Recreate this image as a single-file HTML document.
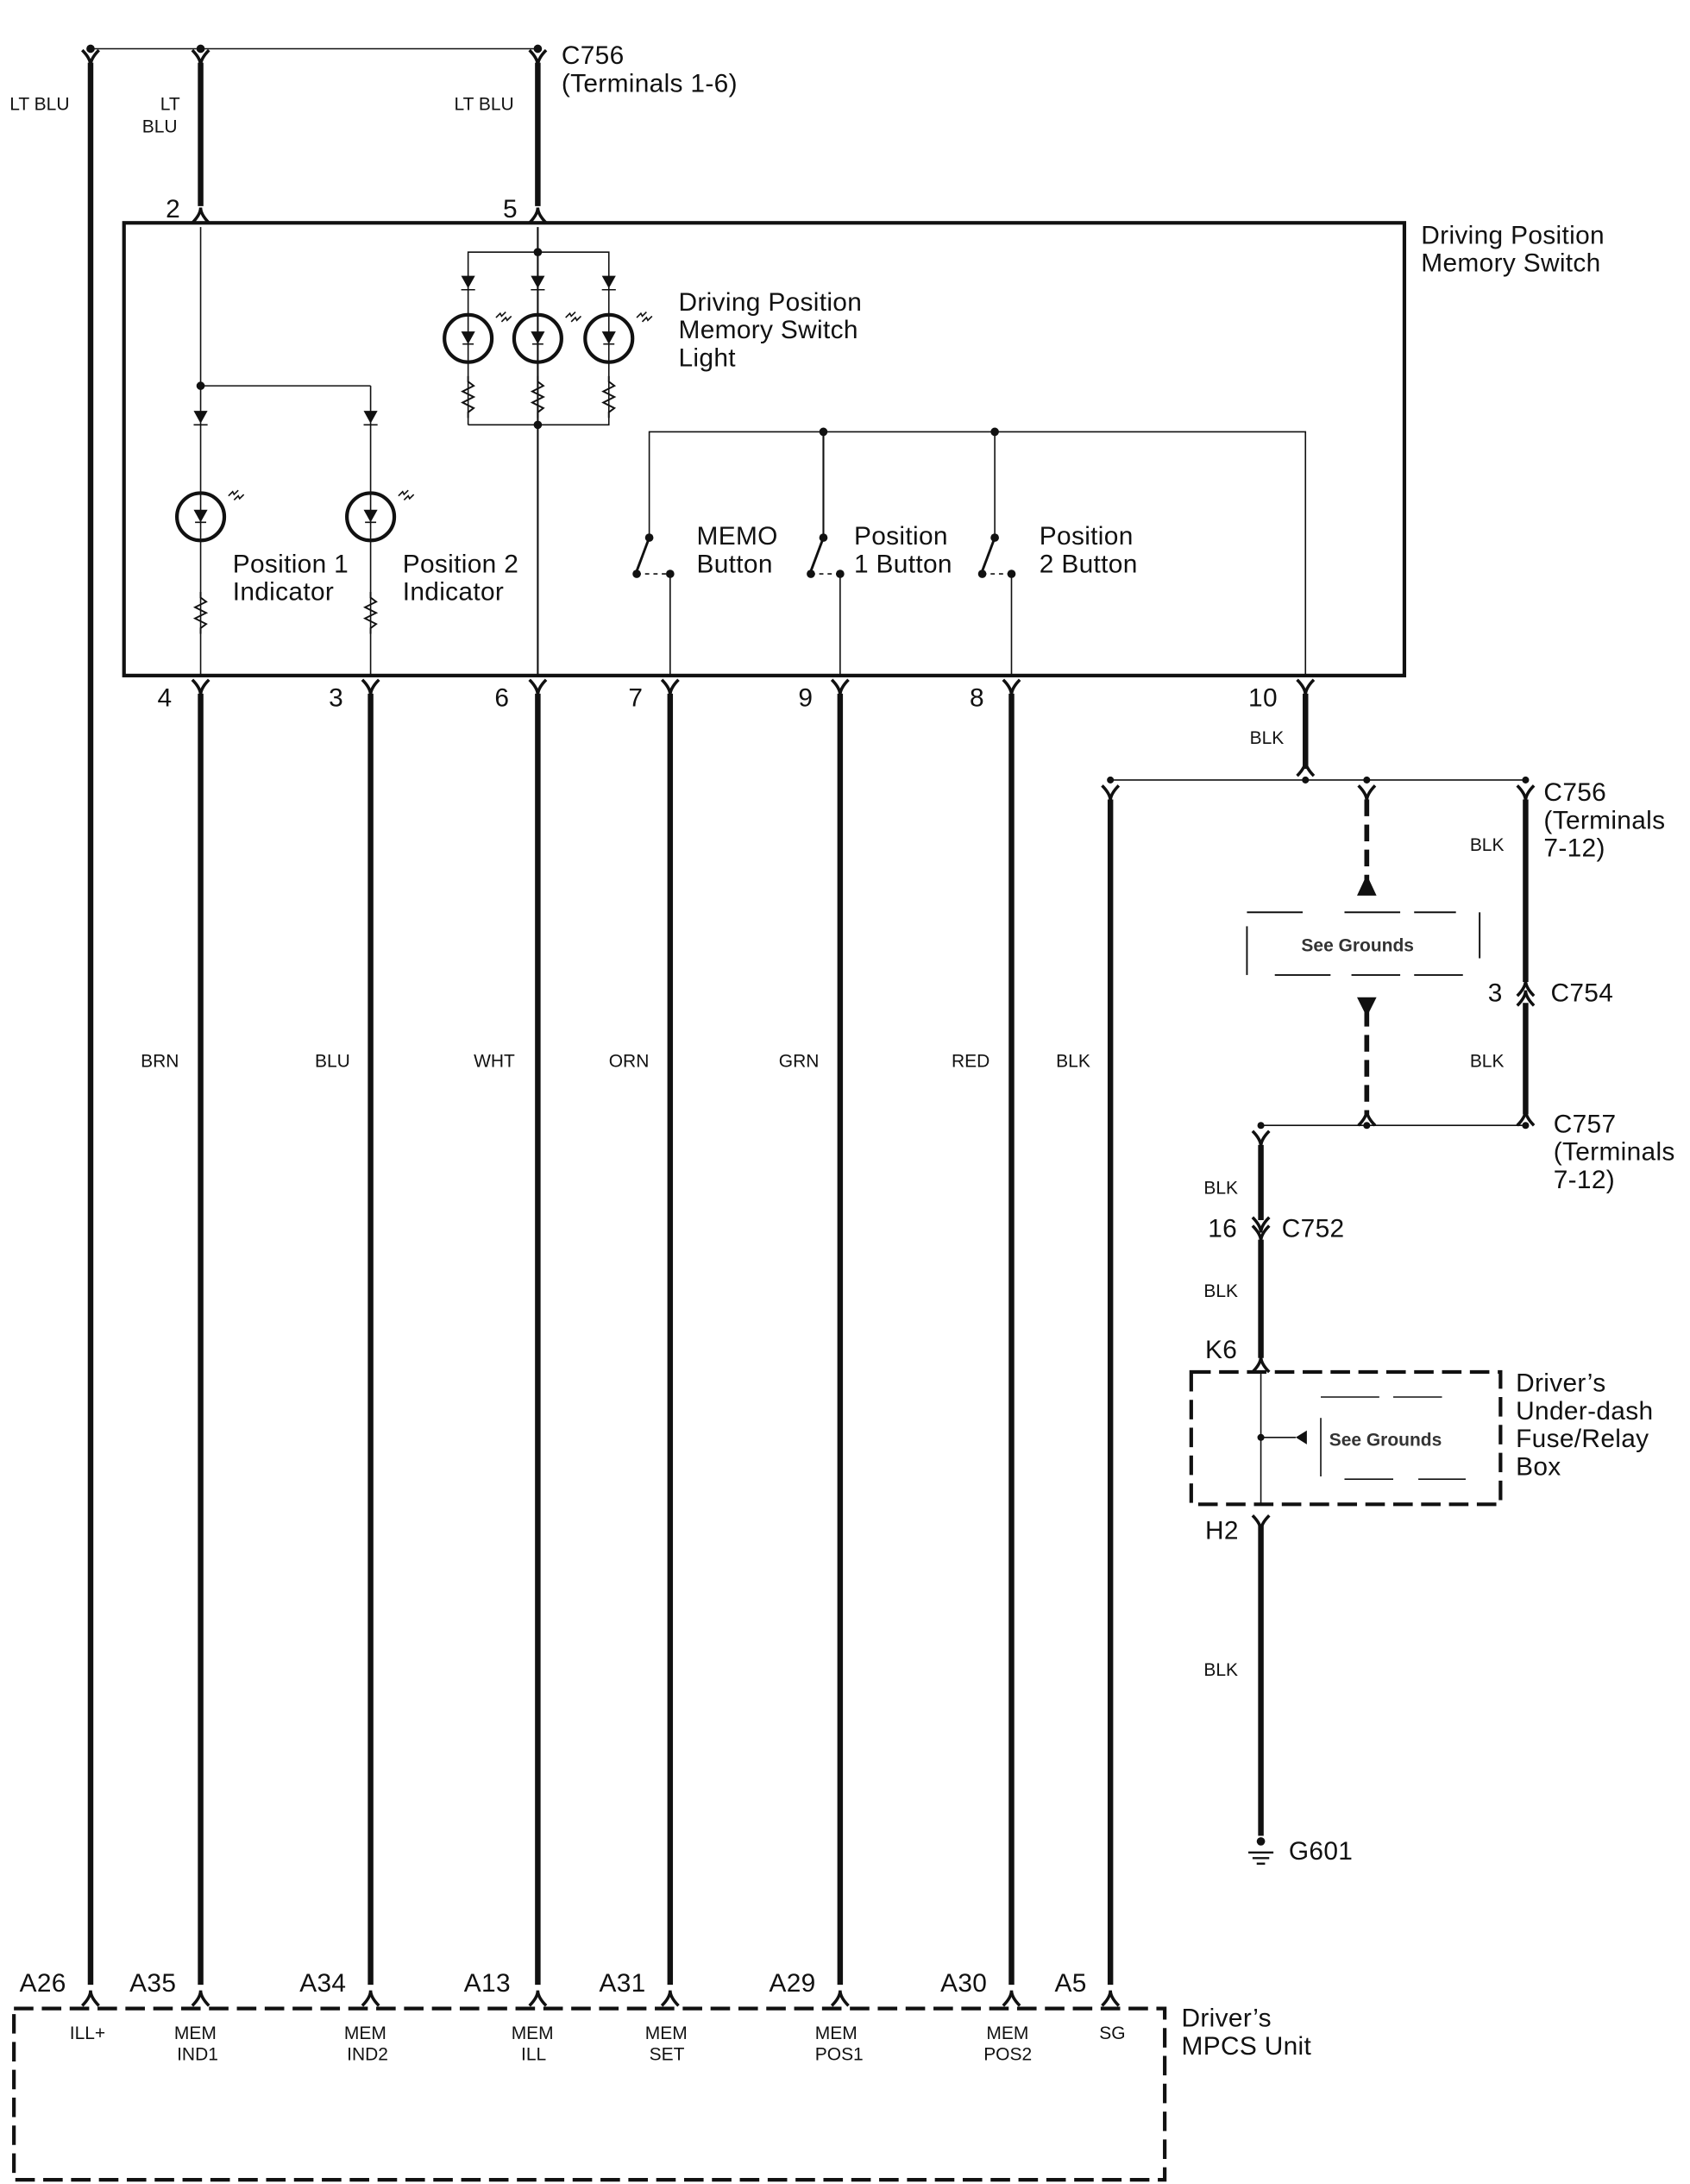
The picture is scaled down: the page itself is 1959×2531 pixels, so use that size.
<!DOCTYPE html>
<html><head><meta charset="utf-8"><style>
html,body{margin:0;padding:0;background:#fff;}
svg{display:block;}
text{font-family:"Liberation Sans",sans-serif;fill:#111;}
.l{font-size:18.5px;letter-spacing:0.2px;}
.s{font-size:13px;}
.b{font-size:13px;font-weight:bold;fill:#333;}
</style></head><body>
<svg width="1959" height="2531" viewBox="0 0 1213 1568" preserveAspectRatio="none" xmlns="http://www.w3.org/2000/svg">
<defs>
<path id="fc" d="M-6,-4 Q0,2 0,7 Q0,2 6,-4" fill="none" stroke="#111" stroke-width="2.2"/>
<path id="mc" d="M-6,5 Q0,-1 0,-6 Q0,-1 6,5" fill="none" stroke="#111" stroke-width="2.2"/>
<g id="led"><circle r="17" fill="none" stroke="#111" stroke-width="2.6"/><path d="M-5,-5 L5,-5 L0,4 Z" fill="#111"/><line x1="-4" y1="4" x2="4" y2="4" stroke="#111"/>
<path d="M20,-15 l3,-3 l1,2 l3,-3 M24,-12 l3,-3 l1,2 l3,-3" fill="none" stroke="#111" stroke-width="1"/></g>
<g id="dio"><path d="M-5,-5 L5,-5 L0,4 Z" fill="#111"/><line x1="-5" y1="5" x2="5" y2="5" stroke="#111"/></g>
<path id="res" d="M0,0 l0,4 l4,3 l-8,4 l8,4 l-8,4 l8,4 l-4,3 l0,4" fill="none" stroke="#111" stroke-width="1.2"/>
</defs>
<g stroke="#111" fill="none">
<line x1="65" y1="35" x2="386" y2="35" stroke-width="1"/>
<line x1="65" y1="45" x2="65" y2="1425" stroke-width="4"/>
<line x1="144" y1="45" x2="144" y2="148" stroke-width="4"/>
<line x1="386" y1="45" x2="386" y2="148" stroke-width="4"/>
<rect x="89" y="160" width="919" height="325" stroke-width="2.6"/>
<line x1="144" y1="163" x2="144" y2="485" stroke-width="1"/>
<line x1="144" y1="277" x2="266" y2="277" stroke-width="1"/>
<line x1="266" y1="277" x2="266" y2="485" stroke-width="1"/>
<line x1="386" y1="163" x2="386" y2="485" stroke-width="1.3"/>
<polyline points="336,305 336,181 437,181 437,305 336,305" stroke-width="1"/>
<polyline points="466,386 466,310 937,310 937,485" stroke-width="1"/>
<line x1="591" y1="310" x2="591" y2="386" stroke-width="1.3"/>
<line x1="714" y1="310" x2="714" y2="386" stroke-width="1"/>
<line x1="481" y1="412" x2="481" y2="485" stroke-width="1"/>
<line x1="603" y1="412" x2="603" y2="485" stroke-width="1"/>
<line x1="726" y1="412" x2="726" y2="485" stroke-width="1"/>
<g stroke-width="1.8"><line x1="466" y1="386" x2="457" y2="410"/><line x1="591" y1="386" x2="582" y2="410"/><line x1="714" y1="386" x2="705" y2="410"/></g>
<g stroke-width="1" stroke-dasharray="3,3"><line x1="457" y1="412" x2="481" y2="412"/><line x1="582" y1="412" x2="603" y2="412"/><line x1="705" y1="412" x2="726" y2="412"/></g>
<g stroke-width="4">
<line x1="144" y1="498" x2="144" y2="1425"/><line x1="266" y1="498" x2="266" y2="1425"/>
<line x1="386" y1="498" x2="386" y2="1425"/><line x1="481" y1="498" x2="481" y2="1425"/>
<line x1="603" y1="498" x2="603" y2="1425"/><line x1="726" y1="498" x2="726" y2="1425"/>
<line x1="937" y1="498" x2="937" y2="552"/><line x1="797" y1="574" x2="797" y2="1425"/>
<line x1="1095" y1="574" x2="1095" y2="705"/><line x1="1095" y1="720" x2="1095" y2="800"/>
<line x1="905" y1="822" x2="905" y2="876"/><line x1="905" y1="890" x2="905" y2="975"/>
<line x1="905" y1="1095" x2="905" y2="1318"/>
</g>
<g stroke-width="3.5" stroke-dasharray="12,6"><line x1="981" y1="574" x2="981" y2="636"/><line x1="981" y1="725" x2="981" y2="800"/></g>
<line x1="797" y1="560" x2="1095" y2="560" stroke-width="1"/>
<line x1="905" y1="808" x2="1095" y2="808" stroke-width="1"/>
<g stroke-width="1.2"><line x1="895" y1="655" x2="935" y2="655"/><line x1="965" y1="655" x2="1005" y2="655"/><line x1="1015" y1="655" x2="1045" y2="655"/>
<line x1="915" y1="700" x2="955" y2="700"/><line x1="970" y1="700" x2="1005" y2="700"/><line x1="1015" y1="700" x2="1050" y2="700"/>
<line x1="895" y1="665" x2="895" y2="700"/><line x1="1062" y1="655" x2="1062" y2="688"/></g>
<rect x="855" y="985" width="222" height="95" stroke-width="2.6" stroke-dasharray="14,6"/>
<line x1="905" y1="985" x2="905" y2="1080" stroke-width="1"/>
<line x1="905" y1="1032" x2="930" y2="1032" stroke-width="1"/>
<g stroke-width="1"><line x1="948" y1="1003" x2="990" y2="1003"/><line x1="1000" y1="1003" x2="1035" y2="1003"/><line x1="948" y1="1018" x2="948" y2="1060"/>
<line x1="965" y1="1062" x2="1000" y2="1062"/><line x1="1018" y1="1062" x2="1052" y2="1062"/></g>
<rect x="10" y="1442" width="826" height="123" stroke-width="2.6" stroke-dasharray="14,6"/>
<g stroke-width="1.5"><line x1="896" y1="1330" x2="914" y2="1330"/><line x1="899" y1="1334" x2="911" y2="1334"/><line x1="902" y1="1338" x2="908" y2="1338"/></g>
</g>
<g fill="#111">
<circle cx="65" cy="35" r="3"/><circle cx="144" cy="35" r="3"/><circle cx="386" cy="35" r="3"/>
<circle cx="386" cy="181" r="3"/><circle cx="386" cy="305" r="3"/><circle cx="144" cy="277" r="3"/>
<circle cx="591" cy="310" r="3"/><circle cx="714" cy="310" r="3"/>
<circle cx="466" cy="386" r="3"/><circle cx="591" cy="386" r="3"/><circle cx="714" cy="386" r="3"/>
<circle cx="457" cy="412" r="3"/><circle cx="582" cy="412" r="3"/><circle cx="705" cy="412" r="3"/>
<circle cx="481" cy="412" r="3"/><circle cx="603" cy="412" r="3"/><circle cx="726" cy="412" r="3"/>
<circle cx="797" cy="560" r="2.5"/><circle cx="937" cy="560" r="2.5"/><circle cx="981" cy="560" r="2.5"/><circle cx="1095" cy="560" r="2.5"/>
<circle cx="905" cy="808" r="2.5"/><circle cx="981" cy="808" r="2.5"/><circle cx="1095" cy="808" r="2.5"/>
<circle cx="905" cy="1032" r="2.5"/><circle cx="905" cy="1322" r="3"/>
<path d="M974,643 L988,643 L981,628 Z"/><path d="M974,716 L988,716 L981,730 Z"/>
<path d="M930,1032 L938,1027 L938,1037 Z"/>
</g>
<use href="#fc" x="65" y="40"/><use href="#fc" x="144" y="40"/><use href="#fc" x="386" y="40"/>
<use href="#mc" x="144" y="155"/><use href="#mc" x="386" y="155"/>
<use href="#fc" x="144" y="492"/><use href="#fc" x="266" y="492"/><use href="#fc" x="386" y="492"/><use href="#fc" x="481" y="492"/><use href="#fc" x="603" y="492"/><use href="#fc" x="726" y="492"/><use href="#fc" x="937" y="492"/>
<use href="#mc" x="937" y="552"/>
<use href="#fc" x="797" y="568"/><use href="#fc" x="981" y="568"/><use href="#fc" x="1095" y="568"/>
<use href="#mc" x="1095" y="710"/><use href="#mc" x="1095" y="717"/>
<use href="#mc" x="1095" y="803"/><use href="#mc" x="981" y="803"/>
<use href="#fc" x="905" y="816"/><use href="#fc" x="905" y="878"/><use href="#fc" x="905" y="884"/>
<use href="#mc" x="905" y="980"/><use href="#fc" x="905" y="1092"/>
<use href="#mc" x="65" y="1435"/><use href="#mc" x="144" y="1435"/><use href="#mc" x="266" y="1435"/><use href="#mc" x="386" y="1435"/><use href="#mc" x="481" y="1435"/><use href="#mc" x="603" y="1435"/><use href="#mc" x="726" y="1435"/><use href="#mc" x="797" y="1435"/>
<use href="#dio" x="336" y="203"/><use href="#dio" x="386" y="203"/><use href="#dio" x="437" y="203"/>
<use href="#led" x="336" y="243"/><use href="#led" x="386" y="243"/><use href="#led" x="437" y="243"/>
<use href="#res" x="336" y="270"/><use href="#res" x="386" y="270"/><use href="#res" x="437" y="270"/>
<use href="#dio" x="144" y="300"/><use href="#dio" x="266" y="300"/>
<use href="#led" x="144" y="371"/><use href="#led" x="266" y="371"/>
<use href="#res" x="144" y="425"/><use href="#res" x="266" y="425"/>
<text class="l" x="403" y="46">C756</text><text class="l" x="403" y="66">(Terminals 1-6)</text>
<text class="s" x="7" y="79">LT BLU</text><text class="s" x="115" y="79">LT</text><text class="s" x="102" y="95">BLU</text><text class="s" x="326" y="79">LT BLU</text>
<text class="l" x="119" y="156">2</text><text class="l" x="361" y="156">5</text>
<text class="l" x="1020" y="175">Driving Position</text><text class="l" x="1020" y="195">Memory Switch</text>
<text class="l" x="487" y="223">Driving Position</text><text class="l" x="487" y="243">Memory Switch</text><text class="l" x="487" y="263">Light</text>
<text class="l" x="167" y="411">Position 1</text><text class="l" x="167" y="431">Indicator</text>
<text class="l" x="289" y="411">Position 2</text><text class="l" x="289" y="431">Indicator</text>
<text class="l" x="500" y="391">MEMO</text><text class="l" x="500" y="411">Button</text>
<text class="l" x="613" y="391">Position</text><text class="l" x="613" y="411">1 Button</text>
<text class="l" x="746" y="391">Position</text><text class="l" x="746" y="411">2 Button</text>
<text class="l" x="113" y="507">4</text><text class="l" x="236" y="507">3</text><text class="l" x="355" y="507">6</text><text class="l" x="451" y="507">7</text><text class="l" x="573" y="507">9</text><text class="l" x="696" y="507">8</text><text class="l" x="896" y="507">10</text>
<text class="s" x="897" y="534">BLK</text>
<text class="l" x="1108" y="575">C756</text><text class="l" x="1108" y="595">(Terminals</text><text class="l" x="1108" y="615">7-12)</text>
<text class="s" x="1055" y="611">BLK</text><text class="s" x="1055" y="766">BLK</text>
<text class="b" x="934" y="683">See Grounds</text>
<text class="l" x="1068" y="719">3</text><text class="l" x="1113" y="719">C754</text>
<text class="l" x="1115" y="813">C757</text><text class="l" x="1115" y="833">(Terminals</text><text class="l" x="1115" y="853">7-12)</text>
<text class="s" x="864" y="857">BLK</text><text class="l" x="867" y="888">16</text><text class="l" x="920" y="888">C752</text>
<text class="s" x="864" y="931">BLK</text><text class="l" x="865" y="975">K6</text>
<text class="l" x="1088" y="999">Driver’s</text><text class="l" x="1088" y="1019">Under-dash</text><text class="l" x="1088" y="1039">Fuse/Relay</text><text class="l" x="1088" y="1059">Box</text>
<text class="b" x="954" y="1038">See Grounds</text>
<text class="l" x="865" y="1105">H2</text><text class="s" x="864" y="1203">BLK</text>
<text class="l" x="925" y="1335">G601</text>
<text class="s" x="101" y="766">BRN</text><text class="s" x="226" y="766">BLU</text><text class="s" x="340" y="766">WHT</text><text class="s" x="437" y="766">ORN</text><text class="s" x="559" y="766">GRN</text><text class="s" x="683" y="766">RED</text><text class="s" x="758" y="766">BLK</text>
<text class="l" x="14" y="1430">A26</text><text class="l" x="93" y="1430">A35</text><text class="l" x="215" y="1430">A34</text><text class="l" x="333" y="1430">A13</text><text class="l" x="430" y="1430">A31</text><text class="l" x="552" y="1430">A29</text><text class="l" x="675" y="1430">A30</text><text class="l" x="757" y="1430">A5</text>
<text class="s" x="50" y="1464">ILL+</text>
<text class="s" x="125" y="1464">MEM</text><text class="s" x="127" y="1479">IND1</text>
<text class="s" x="247" y="1464">MEM</text><text class="s" x="249" y="1479">IND2</text>
<text class="s" x="367" y="1464">MEM</text><text class="s" x="374" y="1479">ILL</text>
<text class="s" x="463" y="1464">MEM</text><text class="s" x="466" y="1479">SET</text>
<text class="s" x="585" y="1464">MEM</text><text class="s" x="585" y="1479">POS1</text>
<text class="s" x="708" y="1464">MEM</text><text class="s" x="706" y="1479">POS2</text>
<text class="s" x="789" y="1464">SG</text>
<text class="l" x="848" y="1455">Driver’s</text><text class="l" x="848" y="1475">MPCS Unit</text>
</svg>
</body></html>
